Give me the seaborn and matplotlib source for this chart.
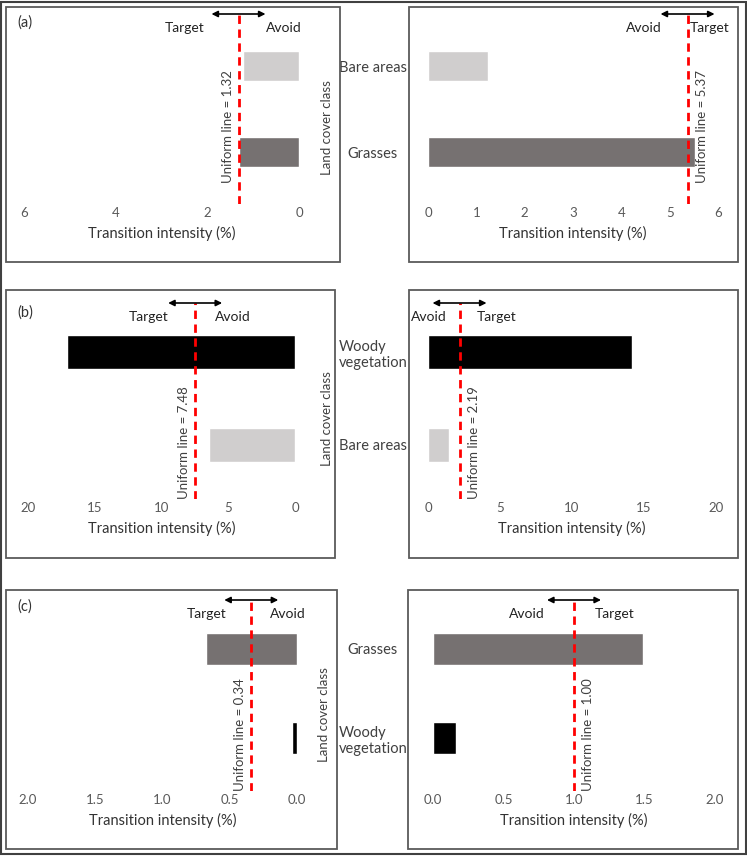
import numpy as np
import pandas as pd
import matplotlib
matplotlib.use('Agg')
import matplotlib.pyplot as plt
import matplotlib.transforms as mtransforms
from matplotlib.patches import Rectangle
import seaborn as sns

sns.set_theme(style='white')
plt.rcParams['font.family'] = ['Lato', 'DejaVu Sans']

# ── data ───────────────────────────────────────────
CATS_A = ['Bare areas', 'Grasses']
LEFT_A = [1.22, 1.31]
RIGHT_A = [1.24, 5.53]
UNIF_A = (1.32, 5.37)
TICKS_A = [0, 1, 2, 3, 4, 5, 6]
LTICKS_A = [0, 2, 4, 6]

CATS_B = ['Woody\nvegetation', 'Bare areas']
LEFT_B = [17.1, 6.44]
RIGHT_B = [14.2, 1.46]
UNIF_B = (7.48, 2.19)
TICKS_B = [0, 5, 10, 15, 20]

CATS_C = ['Grasses', 'Woody\nvegetation']
LEFT_C = [0.68, 0.04]
RIGHT_C = [1.49, 0.16]
UNIF_C = (0.34, 1.00)
TICKS_C = [0.0, 0.5, 1.0, 1.5, 2.0]

COLORS = {'Grasses': '#767171', 'Bare areas': '#d0cece', 'Woody\nvegetation': '#000000'}
GREY = '#595959'

W, H = 747, 857
fig = plt.figure(figsize=(W / 100, H / 100), dpi=100)


def px_axes(x0, y0, x1, y1):
    return fig.add_axes([x0 / W, 1 - y1 / H, (x1 - x0) / W, (y1 - y0) / H])


def box(x0, y0, x1, y1, lw=1.3, color='#5a5a5a'):
    fig.patches.append(Rectangle((x0 / W, 1 - y1 / H), (x1 - x0) / W, (y1 - y0) / H,
                                 transform=fig.transFigure, fill=False,
                                 lw=lw, edgecolor=color))


# layout of each row (pixels)
rows = [
    dict(tag='(a)', cats=CATS_A, left=LEFT_A, right=RIGHT_A, unif=UNIF_A,
         lticks=LTICKS_A, rticks=TICKS_A, fmt='{:g}',
         top=14, bottom=204, centers=(66, 152), lx=(24, 299), rx=(428, 718),
         tag_y=23, ylab_y=128, ylab_x=333, box_y=(7, 262), lbox=(6, 340), rbox=(409, 738),
         ul_y=0.11, loff=(-34, 27), roff=(-26, 2)),
    dict(tag='(b)', cats=CATS_B, left=LEFT_B, right=RIGHT_B, unif=UNIF_B,
         lticks=TICKS_B, rticks=TICKS_B, fmt='{:g}',
         top=303, bottom=499, centers=(352, 445), lx=(28, 295), rx=(428, 716),
         tag_y=313, ylab_y=419, ylab_x=333, box_y=(290, 558), lbox=(6, 335), rbox=(409, 738),
         ul_y=0.0, loff=(-27, 20), roff=(-13, 17)),
    dict(tag='(c)', cats=CATS_C, left=LEFT_C, right=RIGHT_C, unif=UNIF_C,
         lticks=TICKS_C, rticks=TICKS_C, fmt='{:.1f}',
         top=600, bottom=791, centers=(649, 738), lx=(28, 297), rx=(433, 715),
         tag_y=607, ylab_y=715, ylab_x=330, box_y=(590, 849), lbox=(6, 337), rbox=(408, 738),
         ul_y=0.0, loff=(-25, 19), roff=(-29, 21)),
]

for r in rows:
    T, B = r['top'], r['bottom']
    c0, c1 = r['centers']
    s = c1 - c0
    ylim = (1 + (B - c1) / s, -(c0 - T) / s)

    for side in ('left', 'right'):
        x0, x1 = r['lx'] if side == 'left' else r['rx']
        ax = px_axes(x0, T, x1, B)
        vals = r[side]
        df = pd.DataFrame({'cls': r['cats'], 'val': vals})
        sns.barplot(data=df, x='val', y='cls', hue='cls', palette=COLORS,
                    width=0.36, saturation=1, legend=False, orient='h', ax=ax)
        ax.set_ylim(*ylim)
        ticks = r['lticks'] if side == 'left' else r['rticks']
        ax.set_xticks(ticks)
        ax.set_xticklabels([r['fmt'].format(t) for t in ticks])
        if side == 'left':
            ax.set_xlim(max(ticks), 0)
            ax.set_yticks([])
            ax.set_ylabel('')
        else:
            ax.set_xlim(0, max(ticks))
            ax.tick_params(axis='y', length=0, pad=(x0 - 373) * 0.72,
                           labelsize=10.5, labelcolor='#404040')
            for lab in ax.get_yticklabels():
                lab.set_ha('center')
                lab.set_multialignment('left')
            ax.set_ylabel('Land cover class', fontsize=9.5, color='#404040')
            ax.yaxis.set_label_coords(r['ylab_x'] / W, 1 - r['ylab_y'] / H,
                                      transform=fig.transFigure)
            ax.yaxis.label.set_va('bottom')
            ax.yaxis.label.set_rotation_mode('anchor')
        ax.tick_params(axis='x', length=0, pad=2, labelsize=9.5, labelcolor=GREY)
        ax.set_xlabel('Transition intensity (%)', fontsize=10.5, color='#333333', labelpad=5)
        sns.despine(ax=ax, left=True, bottom=True)
        ax.patch.set_alpha(0)

        # uniform intensity line
        u = r['unif'][0 if side == 'left' else 1]
        ax.axvline(u, ymin=0, ymax=1, color='#ff0000', lw=2, dashes=(3, 2))
        trans = mtransforms.blended_transform_factory(ax.transData, ax.transAxes)
        ax.annotate('', xy=(u, 1), xycoords=mtransforms.offset_copy(trans, fig=fig, x=27, y=0, units='dots'),
                    xytext=(u, 1), textcoords=mtransforms.offset_copy(trans, fig=fig, x=-27, y=0, units='dots'),
                    arrowprops=dict(arrowstyle='<|-|>', color='black', lw=1.2,
                                    shrinkA=0, shrinkB=0, mutation_scale=9),
                    annotation_clip=False)
        dl, dr = r['loff'] if side == 'left' else r['roff']
        lt, rt = ('Target', 'Avoid') if side == 'left' else ('Avoid', 'Target')
        ax.text(u, 1, lt, ha='right', va='center', fontsize=10, color='#222222',
                transform=mtransforms.offset_copy(trans, fig=fig, x=dl, y=-14, units='dots'))
        ax.text(u, 1, rt, ha='left', va='center', fontsize=10, color='#222222',
                transform=mtransforms.offset_copy(trans, fig=fig, x=dr, y=-14, units='dots'))

        lbl = 'Uniform line = {:.2f}'.format(u)
        if side == 'left':
            ax.text(u, r['ul_y'], lbl, rotation=90, rotation_mode='anchor',
                    ha='left', va='bottom', fontsize=9.5, color='#404040',
                    transform=mtransforms.offset_copy(trans, fig=fig, x=-5, y=0, units='dots'))
        else:
            ax.text(u, r['ul_y'], lbl, rotation=90, rotation_mode='anchor',
                    ha='left', va='top', fontsize=9.5, color='#404040',
                    transform=mtransforms.offset_copy(trans, fig=fig, x=8, y=0, units='dots'))

    fig.text(17 / W, 1 - r['tag_y'] / H, r['tag'], ha='left', va='center',
             fontsize=10.5, color='#333333')
    y0, y1 = r['box_y']
    box(r['lbox'][0], y0, r['lbox'][1], y1)
    box(r['rbox'][0], y0, r['rbox'][1], y1)

box(1.5, 1.5, 745.5, 854, lw=1.5, color='#404040')

fig.savefig('out.png', dpi=100)
